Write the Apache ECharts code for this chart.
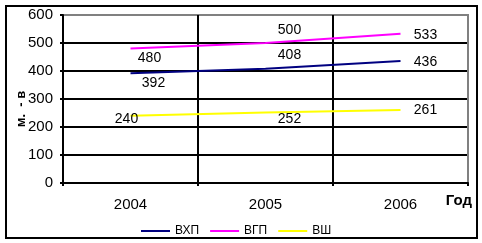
<!DOCTYPE html>
<html><head><meta charset="utf-8">
<script src="https://cdn.jsdelivr.net/npm/echarts@6/dist/echarts.min.js"></script>
<style>html,body{margin:0;padding:0;background:#fff}#c{width:482px;height:243px}</style>
</head><body><div id="c"></div>
<script>
var years = ['2004', '2005', '2006'];
var seriesNames = ['ВХП', 'ВГП', 'ВШ'];
var vhp = [392, 408, 436];
var vgp = [480, 500, 533];
var vsh = [240, 252, 261];
var yTicks = [0, 100, 200, 300, 400, 500, 600];
var yTitle = 'м.  - в';

// label offsets (layout only)
var offVhp = [[23, 10], [24, -14], [25, 1]];
var offVgp = [[19, 10], [24, -13], [25, 1]];
var offVsh = [[-4, 3], [24, 7], [25, 0]];

var FONT = 'Liberation Sans, Arial, sans-serif';

function mk(name, vals, offs, color) {
  return {
    name: name, type: 'line', data: vals.map(function (v, i) {
      return { value: v, label: { offset: offs[i] } };
    }),
    symbol: 'circle', symbolSize: 0, showSymbol: true,
    lineStyle: { color: color, width: 2 }, itemStyle: { color: color },
    label: { show: true, position: 'inside', color: '#000', fontFamily: FONT, fontSize: 14, align: 'center', verticalAlign: 'middle' },
    animation: false, silent: true
  };
}

var chart = echarts.init(document.getElementById('c'), null, { renderer: 'canvas' });
chart.setOption({
  animation: false,
  backgroundColor: '#fff',
  grid: { left: 63, right: 14, top: 15, bottom: 60, containLabel: false, show: true, borderColor: '#808080', borderWidth: 2, backgroundColor: 'transparent' },
  graphic: [
    { type: 'rect', shape: { x: 6, y: 6, width: 471, height: 232 }, style: { fill: 'none', stroke: '#000', lineWidth: 2 }, z: 100 },
    { type: 'text', x: 21, y: 109, rotation: Math.PI / 2, style: { text: yTitle, fontFamily: FONT, fontSize: 13, fontWeight: 'bold', fill: '#000', align: 'center', verticalAlign: 'middle' }, z: 100 }
  ],
  legend: {
    top: 220, left: 136, itemWidth: 29, itemHeight: 2, itemGap: 11,
    icon: 'rect',
    textStyle: { fontFamily: FONT, fontSize: 12, color: '#000' },
    data: seriesNames
  },
  xAxis: {
    type: 'category', data: years, boundaryGap: true,
    name: 'Год', nameLocation: 'end', nameGap: 4,
    nameTextStyle: { fontFamily: FONT, fontSize: 15, fontWeight: 'bold', color: '#000', align: 'right', verticalAlign: 'top', padding: [10, 0, 0, 0] },
    axisLine: { lineStyle: { color: '#000', width: 2 } },
    axisTick: { show: true, length: 3, lineStyle: { color: '#000', width: 2 } },
    axisLabel: { fontFamily: FONT, fontSize: 15, color: '#000', margin: 14 },
    splitLine: { show: true, lineStyle: { color: ['#000', '#000', '#000', '#808080'], width: 2 } }
  },
  yAxis: {
    type: 'value', min: 0, max: 600, interval: 100,
    axisLine: { show: true, lineStyle: { color: '#000', width: 2 } },
    axisTick: { show: true, length: 3, lineStyle: { color: '#000', width: 2 } },
    axisLabel: { fontFamily: FONT, fontSize: 15, color: '#000', margin: 10 },
    splitLine: { show: true, showMaxLine: false, lineStyle: { color: '#000', width: 2 } }
  },
  series: [
    mk(seriesNames[0], vhp, offVhp, '#000080'),
    mk(seriesNames[1], vgp, offVgp, '#FF00FF'),
    mk(seriesNames[2], vsh, offVsh, '#FFFF00')
  ]
});
</script></body></html>
